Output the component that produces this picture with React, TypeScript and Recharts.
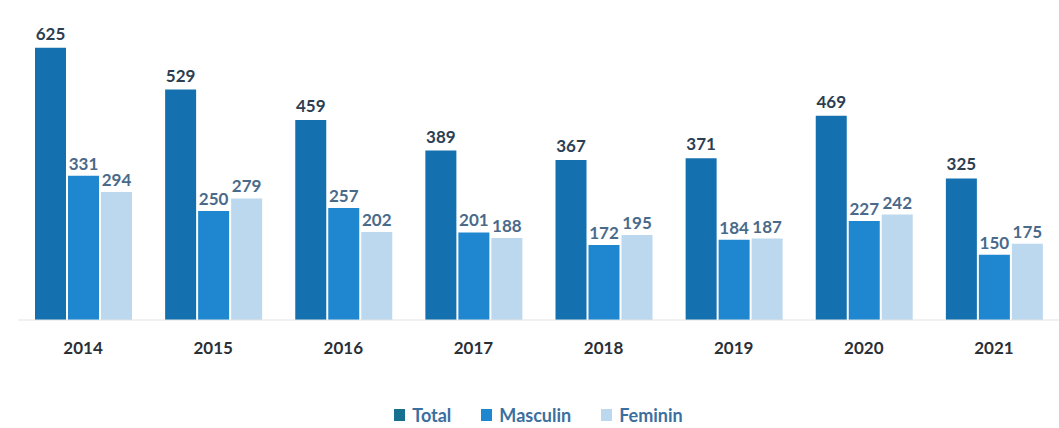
import { BarChart, Bar, XAxis, YAxis, LabelList, Legend } from 'recharts'

const years = ['2014', '2015', '2016', '2017', '2018', '2019', '2020', '2021']
const total = [625, 529, 459, 389, 367, 371, 469, 325]
const masculin = [331, 250, 257, 201, 172, 184, 227, 150]
const feminin = [294, 279, 202, 188, 195, 187, 242, 175]

const COLORS = {
  total: '#1470ae',
  masculin: '#1f87cf',
  feminin: '#bcd8ee',
}

const data = years.map((year, i) => ({
  year,
  Total: total[i],
  Masculin: masculin[i],
  Feminin: feminin[i],
}))

const FONT = 'Lato, "Open Sans", sans-serif'

const legendItems = [
  { name: 'Total', color: '#17708f' },
  { name: 'Masculin', color: COLORS.masculin },
  { name: 'Feminin', color: COLORS.feminin },
]

const CustomLegend = () => (
  <div
    style={{
      display: 'flex',
      justifyContent: 'center',
      gap: 30,
      fontFamily: FONT,
      fontWeight: 700,
      fontSize: 18,
      color: '#3b6f9f',
    }}
  >
    {legendItems.map((item) => (
      <span key={item.name} style={{ display: 'flex', alignItems: 'center', gap: 7 }}>
        <span style={{ width: 11, height: 12, background: item.color, display: 'inline-block' }} />
        {item.name}
      </span>
    ))}
  </div>
)

const labelStyle = (fill: string) => ({
  fill,
  fontFamily: FONT,
  fontWeight: 700,
  fontSize: 17,
})

export default function App() {
  return (
    <div style={{ position: 'absolute', left: 0, top: 0, background: '#fff' }}>
      <BarChart
        width={1059}
        height={428}
        data={data}
        margin={{ top: 15, right: 0, left: 18, bottom: 0 }}
        barCategoryGap={17}
        barGap={2}
      >
        <XAxis
          dataKey="year"
          axisLine={{ stroke: '#e3e3e3' }}
          tickLine={false}
          height={86}
          tick={{ fill: '#2b2f36', fontFamily: FONT, fontWeight: 700, fontSize: 17 }}
          tickMargin={16}
        />
        <YAxis hide domain={[0, 700]} />
        <Legend content={<CustomLegend />} verticalAlign="bottom" wrapperStyle={{ bottom: 2 }} />
        <Bar dataKey="Total" fill={COLORS.total} isAnimationActive={false}>
          <LabelList dataKey="Total" position="top" offset={8} style={labelStyle('#2c3e52')} />
        </Bar>
        <Bar dataKey="Masculin" fill={COLORS.masculin} isAnimationActive={false}>
          <LabelList dataKey="Masculin" position="top" offset={6} style={labelStyle('#4a6a8a')} />
        </Bar>
        <Bar dataKey="Feminin" fill={COLORS.feminin} isAnimationActive={false}>
          <LabelList dataKey="Feminin" position="top" offset={6} style={labelStyle('#4a6a8a')} />
        </Bar>
      </BarChart>
    </div>
  )
}
